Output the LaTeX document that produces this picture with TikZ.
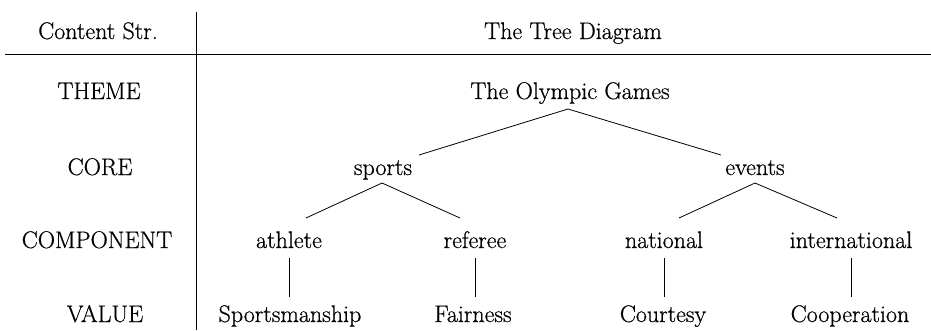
\documentclass[tikz,border=0pt]{standalone}
\usepackage{fontspec}
\setmainfont{Latin Modern Roman}[FakeBold=0.6]
\begin{document}
\begin{tikzpicture}[x=1pt,y=-1pt,
  lbl/.style={anchor=base,inner sep=0pt,font=\fontsize{24}{28}\selectfont},
  rule/.style={line width=0.9pt,black},
  edge/.style={line width=0.8pt,black}]
\useasboundingbox (0,0) rectangle (931,330);
% table rules
\coordinate (vtop) at (196,12);
\coordinate (vbot) at (196,330);
\coordinate (hl) at (5,54);
\coordinate (hr) at (931,54);
\draw[rule] (vtop) -- (vbot);
\draw[rule] (hl) -- (hr);
% headers
\node[lbl] (h1) at (98,39) {Content Str.};
\node[lbl] (h2) at (573,39) {The Tree Diagram};
% left column
\node[lbl] (theme) at (99,99) {THEME};
\node[lbl] (core) at (100,175) {CORE};
\node[lbl] (comp) at (97,248) {COMPONENT};
\node[lbl] (value) at (105,322) {VALUE};
% tree nodes
\node[lbl] (olymp) at (570,99) {The Olympic Games};
\node[lbl] (sports) at (383,175) {sports};
\node[lbl] (events) at (755,175) {events};
\node[lbl] (athlete) at (289,248) {athlete};
\node[lbl] (referee) at (475,248) {referee};
\node[lbl] (national) at (664,248) {national};
\node[lbl] (intl) at (851,248) {international};
\node[lbl] (sportsm) at (290,322) {Sportsmanship};
\node[lbl] (fair) at (473,322) {Fairness};
\node[lbl] (court) at (663,322) {Courtesy};
\node[lbl] (coop) at (850,322) {Cooperation};
% connector end points
\coordinate (olymp-b) at (568,109);
\coordinate (sports-t) at (419,155);
\coordinate (events-t) at (721,155);
\coordinate (sports-b) at (382,183);
\coordinate (athlete-t) at (306,218);
\coordinate (referee-t) at (460,218);
\coordinate (events-b) at (755,183);
\coordinate (national-t) at (679,218);
\coordinate (intl-t) at (837,218);
\draw[edge] (sports-t) -- (olymp-b) -- (events-t);
\draw[edge] (athlete-t) -- (sports-b) -- (referee-t);
\draw[edge] (national-t) -- (events-b) -- (intl-t);
\draw[edge] (athlete.south |- 0,258) -- (athlete.south |- 0,297);
\draw[edge] (referee.south |- 0,258) -- (referee.south |- 0,297);
\draw[edge] (national.south |- 0,258) -- (national.south |- 0,297);
\draw[edge] (intl.south |- 0,258) -- (intl.south |- 0,297);
\end{tikzpicture}
\end{document}
